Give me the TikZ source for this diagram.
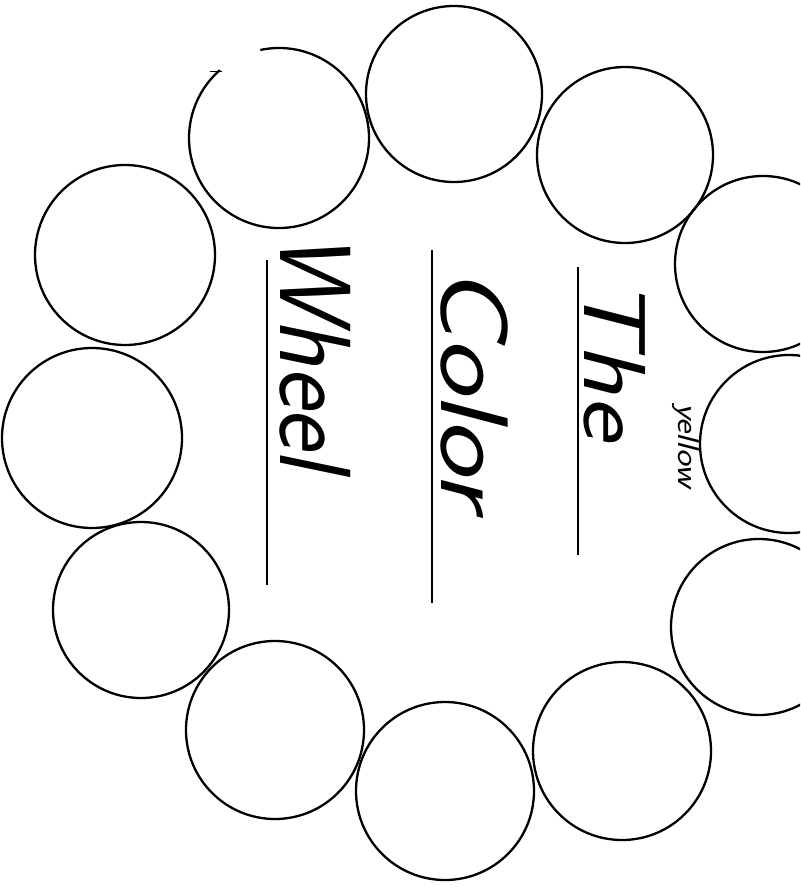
\documentclass[tikz,border=0pt]{standalone}
\newcommand\handfont{\sffamily\itshape}
\begin{document}
\begin{tikzpicture}[x=1pt,y=-1pt,
  ring/.style={line width=2.3pt},
  rule/.style={line width=1.8pt},
  title/.style={inner sep=0pt, rotate=-90, anchor=base west},
  note/.style={inner sep=0pt, rotate=-90, anchor=base west, font=\fontsize{30}{30}\selectfont\handfont}]
\useasboundingbox (0,0) rectangle (800,888);
\clip (0,0) rectangle (800,888);
\fill[white] (0,0) rectangle (800,888);
% circles of the wheel
\draw[ring] (454,94) circle (88pt);
\draw[ring] (279,138) ++(102:90pt) arc[start angle=102, end angle=-229, radius=90pt];
\draw[line width=1pt] (210,72) -- (222,72);
\draw[ring] (625,155) circle (88pt);
\draw[ring] (763,264) circle (88pt);
\draw[ring] (789,444) circle (89pt);
\draw[ring] (759,627) circle (88pt);
\draw[ring] (622,751) circle (89pt);
\draw[ring] (445,791) circle (89pt);
\draw[ring] (275,730) circle (89pt);
\draw[ring] (141,610) circle (88pt);
\draw[ring] (92,438) circle (90pt);
\draw[ring] (125,255) circle (90pt);
% title lines
\coordinate (l1a) at (578,267); \coordinate (l1b) at (578,555);
\coordinate (l2a) at (432,250); \coordinate (l2b) at (432,603);
\coordinate (l3a) at (267,260); \coordinate (l3b) at (267,585);
\draw[rule] (l1a) -- (l1b);
\draw[rule] (l2a) -- (l2b);
\draw[rule] (l3a) -- (l3b);
% title text
\node[title, font=\fontsize{88}{88}\selectfont\handfont] (the) at (584,276) {\scalebox{1.2}[1]{The}};
\node[title, font=\fontsize{96}{96}\selectfont\handfont] (color) at (441,266) {\scalebox{1.23}[1]{Color}};
\node[title, font=\fontsize{88}{88}\selectfont\handfont] (wheel) at (280,231) {\scalebox{1.12}[1.15]{Wheel}};
\node[note] (yellow) at (678,403) {\scalebox{1.2}[1]{yellow}};
\end{tikzpicture}
\end{document}
